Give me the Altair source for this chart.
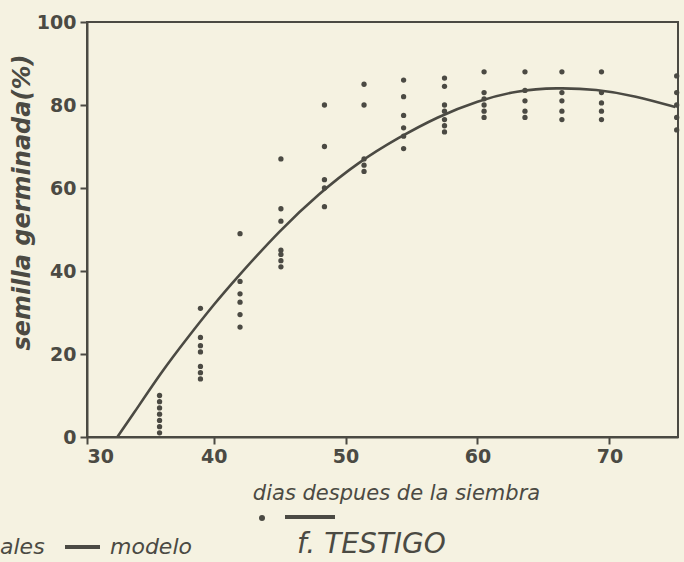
import altair as alt
import pandas as pd

# ---- data ----
dias = [35.9, 39.0, 42.0, 45.1, 48.4, 51.4, 54.4, 57.5, 60.5, 63.6, 66.4, 69.4, 75.1]
germinada = [
    [10, 8.5, 7, 5.5, 4, 2.5, 1],
    [31, 24, 22, 20.5, 17, 15.5, 14],
    [49, 37.5, 34.5, 32.5, 29.5, 26.5],
    [67, 55, 52, 45, 44, 42.5, 41],
    [80, 70, 62, 60, 55.5],
    [85, 80, 67, 65.5, 64],
    [86, 82, 77.5, 74.5, 72.5, 69.5],
    [86.5, 84.5, 80, 78.5, 76.5, 75, 73.5],
    [88, 83, 81.5, 80, 78.5, 77],
    [88, 83.5, 81, 78.5, 77],
    [88, 83, 81, 78.5, 76.5],
    [88, 83, 80.5, 78.5, 76.5],
    [87, 83, 80, 77, 74],
]
modelo_x = [32.7, 34, 36, 38, 40, 42, 45, 48, 51, 54, 57, 60, 63, 66, 69, 72, 75]
modelo_y = [0, 6, 15.3, 23.8, 31.8, 39.2, 49.5, 58.5, 66, 72, 77, 80.8, 83.2, 84, 83.6, 82, 79.5]
x_ticks = [30.4, 40, 50, 60, 70]
y_ticks = [0, 20, 40, 60, 80, 100]

obs = pd.DataFrame([(d, v) for d, vals in zip(dias, germinada) for v in vals],
                   columns=["dia", "pct"])
mod = pd.DataFrame({"dia": modelo_x, "pct": modelo_y})
one = pd.DataFrame({"k": [0]})

INK = "#4b4a43"
BG = "#f5f2e1"

xs = alt.Scale(domain=[30.4, 75.2], nice=False, zero=False)
ys = alt.Scale(domain=[0, 100], nice=False)

x_axis = alt.Axis(
    values=x_ticks,
    labelExpr="datum.value < 31 ? '30' : datum.label",
    labelAlign={"condition": {"test": "datum.value < 31", "value": "left"}, "value": "center"},
    title="dias despues de la siembra",
    titleFont="DejaVu Sans", titleFontStyle="italic", titleFontWeight="normal",
    titleFontSize=21, titleColor=INK,
    titleX=309, titleY=56, titleBaseline="middle", titleAlign="center",
    labelFont="DejaVu Sans", labelFontWeight="bold", labelFontSize=19, labelColor=INK,
    labelPadding=3, tickSize=7, tickWidth=2, tickColor=INK,
    domainColor=INK, domainWidth=2, grid=False,
)
y_axis = alt.Axis(
    values=y_ticks,
    title="semilla germinada(%)",
    titleFont="DejaVu Sans", titleFontStyle="italic", titleFontWeight="bold",
    titleFontSize=24, titleColor=INK,
    titleX=-65, titleY=180, titleAngle=270, titleBaseline="middle", titleAlign="center",
    labelFont="DejaVu Sans", labelFontWeight="bold", labelFontSize=19, labelColor=INK,
    labelPadding=4, tickSize=7, tickWidth=2, tickColor=INK,
    domainColor=INK, domainWidth=2, grid=False,
)

line = alt.Chart(mod).mark_line(color=INK, strokeWidth=2.6, interpolate="natural").encode(
    x=alt.X("dia:Q", scale=xs, axis=x_axis),
    y=alt.Y("pct:Q", scale=ys, axis=y_axis),
)
pts = alt.Chart(obs).mark_circle(color=INK, size=28, opacity=1).encode(
    x=alt.X("dia:Q", scale=xs),
    y=alt.Y("pct:Q", scale=ys),
)

# legend / caption below the plot
leg_dot = alt.Chart(one).mark_circle(color=INK, size=36, opacity=1).encode(
    x=alt.value(175), y=alt.value(496))
leg_line = alt.Chart(one).mark_rule(color=INK, strokeWidth=4).encode(
    x=alt.value(198), x2=alt.value(248), y=alt.value(495))
leg_line2 = alt.Chart(one).mark_rule(color=INK, strokeWidth=4).encode(
    x=alt.value(-22), x2=alt.value(13), y=alt.value(525))

def label(txt, x, y, size, weight="normal"):
    return alt.Chart(one).mark_text(
        text=txt, align="left", baseline="middle", font="DejaVu Sans",
        fontStyle="italic", fontWeight=weight, fontSize=size, color=INK,
    ).encode(x=alt.value(x), y=alt.value(y))

t_ales = label("ales", -87, 525, 22)
t_modelo = label("modelo", 23, 525, 22)
t_testigo = label("f. TESTIGO", 210, 523, 28)

chart = alt.layer(
    line, pts, leg_dot, leg_line, leg_line2, t_ales, t_modelo, t_testigo
).properties(
    width=591, height=415,
    autosize=alt.AutoSizeParams(type="none"),
    padding={"left": 87, "top": 22, "right": 6, "bottom": 125},
    background=BG,
).configure_view(stroke=INK, strokeWidth=2)

chart.save("out.html", embed_options={"renderer": "svg", "actions": False})
